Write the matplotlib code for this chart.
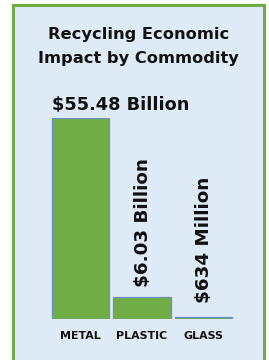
import matplotlib.pyplot as plt
from matplotlib.patches import Rectangle

# data
categories = ["METAL", "PLASTIC", "GLASS"]
values = [55.48, 6.03, 0.634]          # billions of dollars
value_labels = ["$55.48 Billion", "$6.03 Billion", "$634 Million"]

W, H = 269, 360
green = "#70AD47"
panel = "#DEEBF7"
ink = "#111111"

plt.rcParams['font.family'] = ['DejaVu Sans']

fig = plt.figure(figsize=(W / 100, H / 100), dpi=100)
fig.patch.set_facecolor("white")

# light blue panel with green border (open at the bottom)
fig.patches.append(Rectangle((12.5 / W, -0.05), 251 / W, (H - 5.5) / H + 0.05,
                             transform=fig.transFigure, facecolor=panel,
                             edgecolor=green, linewidth=2.2, zorder=-10))

fig.text(138.5 / W, 1 - 39 / H, "Recycling Economic", ha="center", va="baseline",
         fontsize=11.7, fontweight="bold", color=ink)
fig.text(138.5 / W, 1 - 62.5 / H, "Impact by Commodity", ha="center", va="baseline",
         fontsize=11.7, fontweight="bold", color=ink)

ax = fig.add_axes([49.75 / W, 41 / H, 184.5 / W, 201 / H])
ax.set_facecolor("none")
x = range(len(categories))
bars = ax.bar(x, values, width=0.927, color=green, edgecolor="#6A8FC7", linewidth=0.9)
ax.set_xlim(-0.5, 2.5)
ax.set_ylim(0, values[0])
for s in ax.spines.values():
    s.set_visible(False)
ax.set_yticks([])
ax.set_xticks(list(x))
ax.set_xticklabels(categories, fontsize=7.9, fontweight="bold", color=ink)
ax.tick_params(axis="x", length=0, pad=8.5)

# value labels
ax.annotate(value_labels[0], (-0.46, values[0]), xytext=(0, 5.8), textcoords="offset points",
            ha="left", va="baseline", fontsize=12.8, fontweight="bold", color=ink,
            annotation_clip=False)
gaps = [None, 7.2, 10]
for i in (1, 2):
    ax.annotate(value_labels[i], (i, values[i]), xytext=(0.5, gaps[i]), textcoords="offset points",
                ha="center", va="bottom", rotation=90, fontsize=13.2, fontweight="bold",
                color=ink, annotation_clip=False)

fig.savefig("out.png", dpi=100)
